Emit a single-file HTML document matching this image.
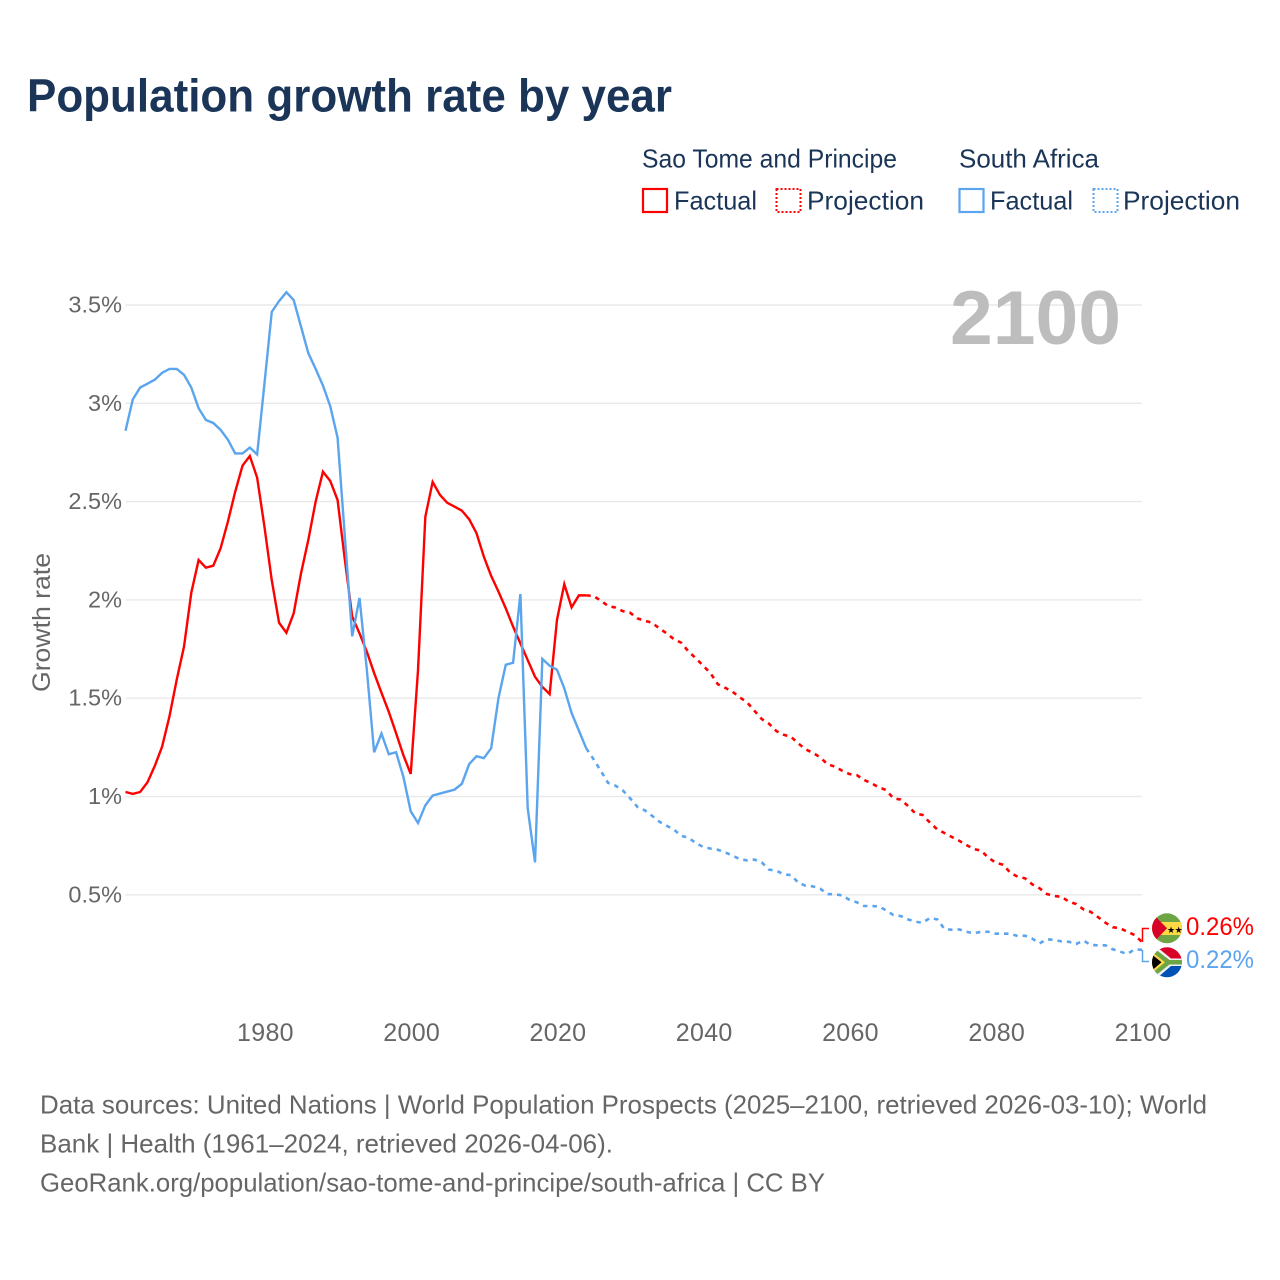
<!DOCTYPE html>
<html lang="en">
<head>
<meta charset="utf-8">
<title>Population growth rate by year</title>
<style>
  html, body { margin: 0; padding: 0; background: #fff; }
  svg { display: block; font-family: "Liberation Sans", sans-serif; }
</style>
</head>
<body>
<svg id="chart" xmlns="http://www.w3.org/2000/svg" width="1280" height="1280" viewBox="0 0 1280 1280">
  <defs>
    <clipPath id="clip-stp"><circle cx="1167" cy="928.3" r="15"/></clipPath>
    <clipPath id="clip-za"><circle cx="1167" cy="962.3" r="15"/></clipPath>
  </defs>
  <rect width="1280" height="1280" fill="#ffffff"/>

  <text x="27" y="111.5" font-size="46" font-weight="700" fill="#1a3557" textLength="645" lengthAdjust="spacingAndGlyphs">Population growth rate by year</text>

  <g font-size="26" fill="#1a3557">
    <text x="642" y="167.5" textLength="255" lengthAdjust="spacingAndGlyphs">Sao Tome and Principe</text>
    <text x="959" y="167.5" textLength="140" lengthAdjust="spacingAndGlyphs">South Africa</text>
    <rect x="643" y="189" width="24" height="23" fill="none" stroke="#ff0000" stroke-width="2.2"/>
    <text x="674" y="209.5" textLength="83" lengthAdjust="spacingAndGlyphs">Factual</text>
    <rect x="776.5" y="189" width="24" height="23" fill="none" stroke="#ff0000" stroke-width="2" stroke-dasharray="2 2"/>
    <text x="807" y="209.5" textLength="117" lengthAdjust="spacingAndGlyphs">Projection</text>
    <rect x="959.5" y="189" width="24" height="23" fill="none" stroke="#5ba4ee" stroke-width="2.2"/>
    <text x="990" y="209.5" textLength="83" lengthAdjust="spacingAndGlyphs">Factual</text>
    <rect x="1093.5" y="189" width="24" height="23" fill="none" stroke="#5ba4ee" stroke-width="2" stroke-dasharray="2 2"/>
    <text x="1123" y="209.5" textLength="117" lengthAdjust="spacingAndGlyphs">Projection</text>
  </g>

  <g id="grid"></g>
  <g id="y-ticks"></g>
  <g id="x-ticks"></g>

  <text transform="translate(50,622.5) rotate(-90)" text-anchor="middle" font-size="25" fill="#666666" textLength="139" lengthAdjust="spacingAndGlyphs">Growth rate</text>

  <text x="950" y="344" font-size="76" font-weight="700" fill="#bdbdbd" textLength="171" lengthAdjust="spacingAndGlyphs">2100</text>

  <g id="series"></g>

  <g clip-path="url(#clip-stp)">
    <rect x="1152" y="913" width="30" height="31" fill="#6da544"/>
    <rect x="1152" y="922" width="30" height="13" fill="#ffda44"/>
    <polygon points="1152,913 1152,944 1167,928.3" fill="#d80027"/>
    <text x="1167" y="933" font-size="9" fill="#000000" letter-spacing="-0.5">★★</text>
  </g>
  <g clip-path="url(#clip-za)">
    <rect x="1152" y="947" width="30" height="15" fill="#d80027"/>
    <rect x="1152" y="962" width="30" height="16" fill="#0052b4"/>
    <polygon points="1152,947 1157,947 1171,958.5 1182,958.5 1182,966 1171,966 1157,978 1152,978" fill="#f0f0f0"/>
    <polygon points="1152,949 1155,949 1169.5,960 1182,960 1182,964.5 1169.5,964.5 1155,976 1152,976" fill="#6da544"/>
    <polygon points="1152,952 1165,962.3 1152,973" fill="#ffda44"/>
    <polygon points="1152,954.5 1161.5,962.3 1152,970.5" fill="#000000"/>
  </g>

  <text x="1186" y="935" font-size="25" fill="#ff0000" textLength="68" lengthAdjust="spacingAndGlyphs">0.26%</text>
  <text x="1186" y="968" font-size="25" fill="#5ba4ee" textLength="68" lengthAdjust="spacingAndGlyphs">0.22%</text>

  <g font-size="26" fill="#666666">
    <text x="40" y="1113.5" textLength="1167" lengthAdjust="spacingAndGlyphs">Data sources: United Nations | World Population Prospects (2025–2100, retrieved 2026-03-10); World</text>
    <text x="40" y="1152.5" textLength="573" lengthAdjust="spacingAndGlyphs">Bank | Health (1961–2024, retrieved 2026-04-06).</text>
    <text x="40" y="1191.5" textLength="785" lengthAdjust="spacingAndGlyphs">GeoRank.org/population/sao-tome-and-principe/south-africa | CC BY</text>
  </g>
</svg>
<script>
const yTickValues = [0.5, 1, 1.5, 2, 2.5, 3, 3.5];
const yTickLabels = ["0.5%", "1%", "1.5%", "2%", "2.5%", "3%", "3.5%"];
const xTickYears = [1980, 2000, 2020, 2040, 2060, 2080, 2100];
const factualStartYear = 1961;
const projectionStartYear = 2024;

const saoTomeFactual = [1.023,1.013,1.023,1.072,1.155,1.253,1.406,1.593,1.762,2.037,2.203,2.164,2.174,2.262,2.398,2.55,2.683,2.732,2.622,2.372,2.10,1.884,1.833,1.932,2.135,2.305,2.50,2.652,2.605,2.508,2.203,1.915,1.83,1.737,1.628,1.528,1.431,1.322,1.21,1.115,1.643,2.423,2.60,2.534,2.494,2.474,2.454,2.41,2.339,2.22,2.122,2.042,1.957,1.864,1.779,1.694,1.609,1.558,1.521,1.898,2.08,1.962,2.023,2.023];

const saoTomeProjection = [2.023,2.02,1.996,1.969,1.961,1.943,1.935,1.906,1.894,1.884,1.855,1.83,1.80,1.782,1.737,1.703,1.665,1.627,1.571,1.553,1.533,1.504,1.479,1.436,1.394,1.37,1.333,1.314,1.304,1.27,1.24,1.222,1.199,1.164,1.152,1.131,1.114,1.109,1.084,1.067,1.047,1.033,0.991,0.984,0.952,0.914,0.906,0.867,0.833,0.814,0.794,0.775,0.753,0.733,0.724,0.689,0.663,0.653,0.612,0.592,0.584,0.553,0.533,0.504,0.494,0.49,0.465,0.453,0.426,0.413,0.386,0.358,0.335,0.33,0.312,0.295,0.26];

const southAfricaFactual = [2.86,3.02,3.08,3.10,3.12,3.155,3.175,3.175,3.145,3.08,2.975,2.915,2.90,2.865,2.815,2.745,2.745,2.775,2.74,3.10,3.465,3.52,3.565,3.525,3.39,3.255,3.175,3.09,2.985,2.825,2.32,1.815,2.01,1.645,1.225,1.32,1.215,1.225,1.10,0.925,0.865,0.955,1.005,1.015,1.025,1.035,1.065,1.165,1.205,1.195,1.245,1.50,1.67,1.68,2.03,0.94,0.665,1.70,1.665,1.645,1.55,1.425,1.335,1.245];

const southAfricaProjection = [1.245,1.19,1.13,1.069,1.055,1.031,0.991,0.947,0.93,0.902,0.872,0.851,0.831,0.80,0.79,0.763,0.743,0.735,0.729,0.716,0.699,0.682,0.675,0.679,0.665,0.628,0.623,0.604,0.60,0.562,0.546,0.543,0.531,0.503,0.503,0.497,0.474,0.462,0.443,0.443,0.441,0.421,0.397,0.392,0.375,0.363,0.358,0.382,0.375,0.326,0.322,0.324,0.312,0.304,0.312,0.312,0.302,0.302,0.302,0.29,0.292,0.277,0.253,0.274,0.27,0.263,0.261,0.25,0.267,0.245,0.243,0.243,0.223,0.211,0.199,0.223,0.22];

const RED = '#ff0000';
const BLUE = '#5ba4ee';
const NS = 'http://www.w3.org/2000/svg';

function xScale(year) { return 125.5 + (year - 1961) * (1142 - 125.5) / 139; }
function yScale(value) { return 993.1 - value * 196.6; }

function toPoints(values, startYear) {
  return values.map(function (v, i) {
    return xScale(startYear + i).toFixed(2) + ',' + yScale(v).toFixed(2);
  }).join(' ');
}

const gridGroup = document.getElementById('grid');
const yTickGroup = document.getElementById('y-ticks');
yTickValues.forEach(function (v, i) {
  const line = document.createElementNS(NS, 'line');
  
  
  line.setAttribute('x1', xScale(1961));
  line.setAttribute('x2', xScale(2100));
  line.setAttribute('y1', yScale(v));
  line.setAttribute('y2', yScale(v));
  line.setAttribute('stroke', '#e9e9e9');
  line.setAttribute('stroke-width', '1.4');
  gridGroup.appendChild(line);

  const label = document.createElementNS(NS, 'text');
  
  
  label.setAttribute('x', 122);
  label.setAttribute('y', yScale(v) + 7.5);
  label.setAttribute('text-anchor', 'end');
  label.setAttribute('font-size', '23.5');
  label.setAttribute('fill', '#666666');
  label.textContent = yTickLabels[i];
  yTickGroup.appendChild(label);
});

const xTickGroup = document.getElementById('x-ticks');
xTickYears.forEach(function (year) {
  const label = document.createElementNS(NS, 'text');
  
  
  label.setAttribute('x', xScale(year) + 1);
  label.setAttribute('y', 1041);
  label.setAttribute('text-anchor', 'middle');
  label.setAttribute('font-size', '25');
  label.setAttribute('letter-spacing', '0.3');
  label.setAttribute('fill', '#666666');
  label.textContent = String(year);
  xTickGroup.appendChild(label);
});

const seriesGroup = document.getElementById('series');

function addLine(values, startYear, color, dashed, name) {
  const line = document.createElementNS(NS, 'polyline');
  
  
  line.setAttribute('points', toPoints(values, startYear));
  line.setAttribute('fill', 'none');
  line.setAttribute('stroke', color);
  line.setAttribute('stroke-width', dashed ? '2.6' : '2.4');
  if (dashed) { line.setAttribute('stroke-dasharray', '4.5 5'); }
  seriesGroup.appendChild(line);
}

addLine(saoTomeFactual, factualStartYear, RED, false, 'sao-tome-factual-line');
addLine(saoTomeProjection, projectionStartYear, RED, true, 'sao-tome-projection-line');
addLine(southAfricaFactual, factualStartYear, BLUE, false, 'south-africa-factual-line');
addLine(southAfricaProjection, projectionStartYear, BLUE, true, 'south-africa-projection-line');

function addConnector(value, labelY, color, name) {
  const path = document.createElementNS(NS, 'polyline');
  
  
  const x = xScale(2100) + 0.5;
  path.setAttribute('points', x + ',' + yScale(value) + ' ' + x + ',' + labelY + ' 1149,' + labelY);
  path.setAttribute('fill', 'none');
  path.setAttribute('stroke', color);
  path.setAttribute('stroke-width', '1.5');
  seriesGroup.appendChild(path);
}

addConnector(saoTomeProjection[saoTomeProjection.length - 1], 928.5, RED, 'sao-tome-end-connector');
addConnector(southAfricaProjection[southAfricaProjection.length - 1], 961.5, BLUE, 'south-africa-end-connector');
</script>
</body>
</html>
